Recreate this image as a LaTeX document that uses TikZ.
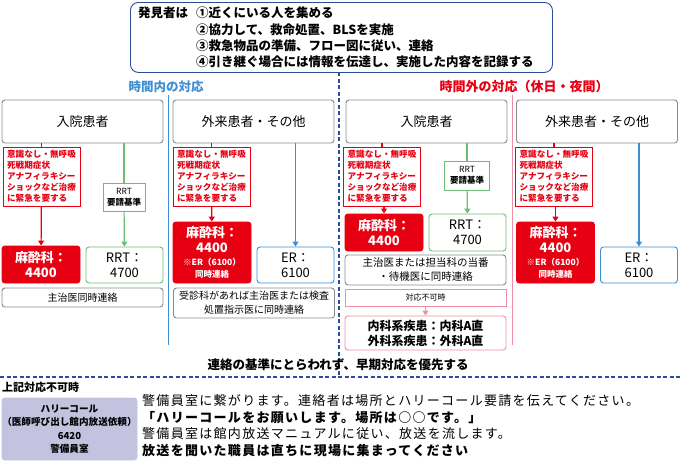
\documentclass[tikz,border=0pt]{standalone}
\usepackage{fontspec}
\setmainfont{Noto Sans CJK JP}
\usetikzlibrary{arrows.meta, positioning}
\definecolor{cred}{HTML}{E60012}
\definecolor{cgreen}{HTML}{6CBD78}
\definecolor{cblue}{HTML}{3D8FD2}
\definecolor{cnavy}{HTML}{2B4C9B}
\definecolor{cpink}{HTML}{EE8DA3}
\definecolor{cgray}{HTML}{8A8A8A}
\definecolor{clav}{HTML}{C3C3E0}
\tikzset{
  bx/.style={draw, rounded corners=3pt, inner sep=0pt, align=center, line width=0.9pt},
  head/.style={bx, draw=cgray, minimum width=161pt, minimum height=43pt, font=\fontsize{13}{15}\selectfont},
  cond/.style={draw=cred, line width=1pt, inner sep=2pt, minimum width=77pt, minimum height=59pt,
    text=cred, align=left, font=\fontsize{8.6}{11}\selectfont\bfseries},
  redb/.style={bx, draw=cred, fill=cred, text=white, minimum width=78pt, font=\fontsize{13}{15}\selectfont\bfseries},
  grnb/.style={bx, draw=cgreen, minimum width=77pt, minimum height=36pt, font=\fontsize{13}{15}\selectfont},
  blub/.style={bx, draw=cblue, minimum width=77pt, minimum height=36pt, font=\fontsize{13}{15}\selectfont},
  note/.style={bx, draw=cgray, minimum width=161pt, font=\fontsize{10}{14}\selectfont},
  arr/.style={line width=1.2pt, -{Triangle[width=6pt,length=5pt]}},
}
\begin{document}
\begin{tikzpicture}[x=1pt, y=-1pt]
\useasboundingbox (0,0) rectangle (680,463);

% top
\node[bx, draw=cnavy, rounded corners=8pt, minimum width=422pt, minimum height=70pt, anchor=north west] (finder) at (130,2) {};
\node[anchor=north west, inner sep=0pt, font=\fontsize{12.5}{16.3}\selectfont\bfseries] (fhead) at (138,7) {発見者は};
\node[anchor=north west, inner sep=0pt, font=\fontsize{12.5}{16.3}\selectfont\bfseries, align=left] (fitem) at (196,7)
  {①近くにいる人を集める\\②協力して、救命処置、BLSを実施\\③救急物品の準備、フロー図に従い、連絡\\④引き継ぐ場合には情報を伝達し、実施した内容を記録する};

\node[text=cblue, font=\fontsize{12.5}{14}\selectfont\bfseries] (tin) at (166,87) {時間内の対応};
\node[text=cred, font=\fontsize{13}{14}\selectfont\bfseries] (tout) at (524,87) {時間外の対応（休日・夜間）};

% dividers
\coordinate (dv1) at (339,72);
\coordinate (dv2) at (339,376);
\draw[cnavy, line width=1.4pt, dash pattern=on 4pt off 2.5pt] (dv1) -- (dv2);
\coordinate (bl1) at (168,95);
\coordinate (bl2) at (168,345);
\draw[cblue, line width=0.8pt] (bl1) -- (bl2);
\coordinate (rl1) at (512,95);
\coordinate (rl2) at (512,345);
\draw[cpink, line width=0.8pt] (rl1) -- (rl2);

% heads
\node[head] (inA) at (82.5,121.5) {入院患者};
\node[head] (outA) at (253.5,121.5) {外来患者・その他};
\node[head] (inB) at (426.5,121.5) {入院患者};
\node[head] (outB) at (597,121.5) {外来患者・その他};

% 時間内 入院
\node[cond] (condA) at (41.5,176.5) {意識なし・無呼吸\\死戦期症状\\アナフィラキシー\\ショックなど治療\\に緊急を要する};
\node[redb, minimum height=37pt] (anA) at (41,264.5) {麻酔科：\\4400};
\node[bx, draw=cgreen, rounded corners=0pt, line width=1pt, minimum width=42pt, minimum height=28pt, font=\fontsize{8.5}{11}\selectfont] (rrtcA) at (124,197) {RRT\\\textbf{要請基準}};
\node[grnb] (rrtA) at (124.5,265) {RRT：\\4700};
\node[note, minimum height=19pt] (noteA) at (82.5,297.5) {主治医同時連絡};
\draw[cred, line width=1.2pt] (inA.south -| condA) -- (condA);
\draw[cred, arr] (condA) -- (anA);
\draw[cgreen, line width=1.2pt] (inA.south -| rrtcA) -- (rrtcA);
\draw[cgreen, arr] (rrtcA) -- (rrtA);

% 時間内 外来
\node[cond] (condC) at (211.5,176.5) {意識なし・無呼吸\\死戦期症状\\アナフィラキシー\\ショックなど治療\\に緊急を要する};
\node[redb, minimum height=61pt] (anC) at (212,252.5) {麻酔科：\\4400\\[-2pt]{\fontsize{8.5}{10}\selectfont ※ER（6100）}\\[-3pt]{\fontsize{8.5}{10}\selectfont 同時連絡}};
\node[blub] (erC) at (295.5,265) {ER：\\6100};
\node[note, minimum height=30pt] (noteC) at (254,303) {受診科があれば主治医または検査\\処置指示医に同時連絡};
\draw[cred, line width=1.2pt] (outA.south -| condC) -- (condC);
\draw[cred, arr] (condC) -- (anC);
\draw[cblue, arr] (outA.south -| erC) -- (erC);

% 時間外 入院
\node[cond] (condB) at (382,176.5) {意識なし・無呼吸\\死戦期症状\\アナフィラキシー\\ショックなど治療\\に緊急を要する};
\node[redb, minimum height=37pt] (anB) at (384,232.5) {麻酔科：\\4400};
\node[bx, draw=cgreen, rounded corners=0pt, line width=1pt, minimum width=45pt, minimum height=29pt, font=\fontsize{8.5}{11}\selectfont] (rrtcB) at (467,175.5) {RRT\\\textbf{要請基準}};
\node[grnb, minimum height=37pt] (rrtB) at (467.5,232.5) {RRT：\\4700};
\node[note, minimum height=30pt, font=\fontsize{10.5}{14}\selectfont] (noteB) at (425.5,270) {主治医または担当科の当番\\・待機医に同時連絡};
\node[bx, draw=cpink, rounded corners=0pt, minimum width=161pt, minimum height=17pt, font=\fontsize{8}{10}\selectfont] (ngB) at (425.5,297.5) {対応不可時};
\node[bx, draw=cpink, minimum width=161pt, minimum height=34pt, font=\fontsize{12}{15}\selectfont\bfseries] (duty) at (425.5,333) {内科系疾患：内科A直\\外科系疾患：外科A直};
\draw[cred, line width=1.2pt] (inB.south -| condB) -- (condB);
\draw[cred, arr] (condB.south -| anB) -- (anB);
\draw[cgreen, line width=1.2pt] (inB.south -| rrtcB) -- (rrtcB);
\draw[cgreen, arr] (rrtcB) -- (rrtB);
\draw[cpink, arr] (ngB) -- (duty);

% 時間外 外来
\node[cond] (condD) at (554,176.5) {意識なし・無呼吸\\死戦期症状\\アナフィラキシー\\ショックなど治療\\に緊急を要する};
\node[redb, minimum height=61pt] (anD) at (555.5,252.5) {麻酔科：\\4400\\[-2pt]{\fontsize{8.5}{10}\selectfont ※ER（6100）}\\[-3pt]{\fontsize{8.5}{10}\selectfont 同時連絡}};
\node[blub] (erD) at (639,265) {ER：\\6100};
\draw[cred, line width=1.2pt] (outB.south -| condD) -- (condD);
\draw[cred, arr] (condD.south -| anD) -- (anD);
\draw[cblue, arr] (outB.south -| erD) -- (erD);

% bottom
\node[font=\fontsize{12.5}{14}\selectfont\bfseries] (prio) at (338,365) {連絡の基準にとらわれず、早期対応を優先する};
\coordinate (hl1) at (0,377);
\coordinate (hl2) at (680,377);
\draw[cnavy, line width=1.4pt, dash pattern=on 4pt off 2.5pt] (hl1) -- (hl2);
\node[anchor=west, inner sep=0pt, font=\fontsize{11}{13}\selectfont\bfseries] (ng) at (2,387) {上記対応不可時};
\node[bx, draw=clav, fill=clav, minimum width=135pt, minimum height=62pt, font=\fontsize{9.6}{13.5}\selectfont\bfseries] (harry) at (69.5,429) {ハリーコール\\（医師呼び出し館内放送依頼）\\6420\\警備員室};
\node[anchor=north west, inner sep=0pt, align=left, font=\fontsize{13}{16.8}\selectfont\addfontfeature{LetterSpace=10}] (msg) at (142,394)
  {警備員室に繋がります。連絡者は場所とハリーコール要請を伝えてください。\\\textbf{「ハリーコールをお願いします。場所は○○です。」}\\警備員室は館内放送マニュアルに従い、放送を流します。\\\textbf{放送を聞いた職員は直ちに現場に集まってください}};
\end{tikzpicture}
\end{document}
